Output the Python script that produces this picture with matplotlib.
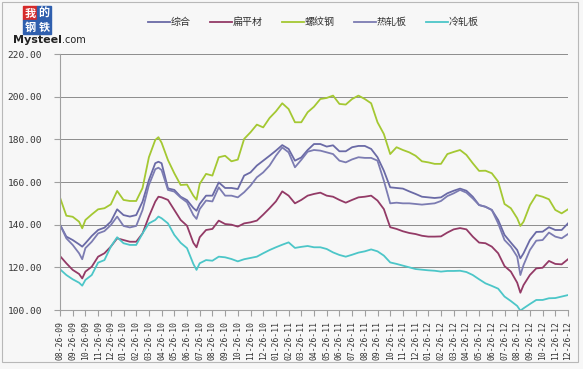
import matplotlib
matplotlib.use("Agg")
import matplotlib.pyplot as plt
from matplotlib.patches import Rectangle
import pandas as pd

# month offsets from 08-26-09
months = [0, 0.5, 1, 1.5, 1.75, 2, 2.5, 3, 3.5, 4, 4.5, 5, 5.5, 6, 6.5, 7, 7.5, 7.75, 8, 8.5,
          9, 9.5, 10, 10.5, 10.75, 11, 11.5, 12, 12.5, 13, 13.5, 14, 14.5, 15, 15.5, 16, 16.5,
          17, 17.5, 18, 18.5, 19, 19.5, 20, 20.5, 21, 21.5, 22, 22.5, 23, 23.5, 24, 24.5, 25,
          25.5, 26, 26.5, 27, 27.5, 28, 28.5, 29, 29.5, 30, 30.5, 31, 31.5, 32, 32.5, 33, 33.5,
          34, 34.5, 35, 35.5, 36, 36.25, 36.5, 37, 37.5, 38, 38.5, 39, 39.5, 40]

rebar = [152.7, 144.2, 143.7, 141.4, 138.3, 142.2, 144.8, 147.2, 147.7, 149.5, 155.8, 151.6, 151.1,
         151.1, 157.2, 171.6, 179.7, 181.0, 178.4, 170.3, 164.1, 158.6, 158.8, 153.6, 151.7, 159.1,
         163.8, 163.0, 171.6, 172.3, 169.7, 170.5, 180.2, 183.3, 186.9, 185.6, 190.0, 193.1, 196.9,
         194.2, 188.0, 188.0, 192.7, 195.3, 198.9, 199.4, 200.5, 196.6, 196.3, 198.9, 200.5, 198.9,
         196.9, 188.0, 182.5, 173.1, 176.3, 175.0, 173.9, 172.3, 169.7, 169.2, 168.5, 168.5, 173.1,
         174.1, 175.0, 172.7, 168.8, 165.2, 165.3, 164.1, 160.2, 149.7, 147.7, 143.0, 139.4, 141.4,
         149.1, 153.9, 153.1, 151.9, 146.9, 145.3, 147.2]

composite = [140.0, 134.4, 132.8, 130.8, 129.7, 131.3, 134.7, 137.5, 138.6, 141.4, 147.2, 144.5, 143.8,
             144.5, 150.8, 160.9, 168.8, 169.5, 168.8, 157.0, 156.3, 153.1, 151.5, 147.8, 146.5, 149.7,
             153.6, 153.6, 159.8, 157.2, 157.2, 156.7, 163.0, 164.5, 167.7, 170.0, 172.3, 174.7, 177.3,
             175.5, 170.0, 171.5, 175.0, 177.8, 177.8, 176.6, 177.2, 174.4, 174.4, 176.3, 176.9, 176.9,
             175.5, 171.6, 165.3, 157.5, 157.2, 156.9, 155.6, 154.4, 153.1, 152.8, 152.5, 152.8, 154.7,
             155.9, 156.9, 155.9, 153.1, 149.2, 148.4, 146.9, 142.2, 135.2, 131.6, 128.1, 124.2, 126.6,
             132.8, 136.6, 136.7, 138.8, 137.5, 137.5, 140.6]

hot_rolled = [140.0, 133.6, 130.5, 126.6, 123.8, 129.0, 132.0, 135.9, 137.0, 139.8, 143.8, 139.4, 138.7,
              139.4, 146.9, 158.6, 166.0, 166.7, 165.6, 156.3, 155.5, 152.7, 150.5, 144.5, 142.7, 147.3,
              151.3, 150.9, 157.5, 153.6, 153.6, 152.8, 155.2, 158.3, 162.2, 164.5, 167.7, 172.3, 176.2,
              173.9, 166.9, 170.4, 174.2, 175.0, 174.7, 173.9, 173.1, 170.0, 169.2, 170.6, 171.6, 171.3,
              171.3, 170.0, 160.6, 150.0, 150.3, 150.0, 150.0, 149.7, 149.4, 149.7, 150.0, 151.1, 153.4,
              154.7, 156.3, 155.0, 152.3, 149.2, 148.4, 146.9, 140.6, 132.8, 129.7, 125.0, 116.4, 121.1,
              128.1, 132.5, 132.8, 136.3, 134.4, 133.6, 135.6]

flat = [125.3, 121.9, 118.8, 116.9, 114.8, 118.0, 120.3, 125.0, 126.6, 129.7, 133.6, 132.8, 132.0,
        132.0, 135.9, 143.8, 150.8, 153.1, 152.8, 151.6, 146.9, 142.2, 139.5, 131.5, 129.4, 134.1,
        137.5, 138.0, 141.9, 140.3, 140.0, 139.1, 140.6, 141.1, 141.9, 144.7, 147.7, 150.9, 155.6,
        153.6, 150.0, 151.6, 153.6, 154.4, 155.0, 153.6, 153.1, 151.6, 150.3, 151.6, 152.8, 153.1,
        153.6, 151.3, 147.3, 138.8, 138.0, 136.9, 136.1, 135.6, 134.8, 134.4, 134.4, 134.5, 136.3,
        137.8, 138.4, 137.8, 134.4, 131.6, 131.3, 129.7, 126.6, 120.6, 118.0, 112.8, 108.1, 111.7,
        116.4, 119.5, 119.8, 123.0, 121.6, 121.4, 123.8]

cold_rolled = [119.1, 116.4, 114.4, 112.8, 111.4, 114.1, 116.4, 122.2, 123.4, 129.7, 134.1, 131.3, 130.5,
               130.5, 135.9, 140.6, 142.2, 143.8, 143.0, 140.6, 135.2, 131.5, 129.0, 121.6, 118.8, 121.9,
               123.4, 123.1, 125.0, 124.7, 123.9, 122.8, 123.8, 124.4, 125.0, 126.6, 128.1, 129.4, 130.6,
               131.7, 129.1, 129.6, 130.0, 129.4, 129.4, 128.6, 127.0, 125.8, 125.0, 125.9, 126.9, 127.5,
               128.4, 127.5, 125.5, 122.3, 121.6, 120.8, 120.0, 119.2, 118.9, 118.6, 118.4, 118.0, 118.3,
               118.3, 118.4, 117.8, 116.4, 114.4, 112.5, 111.3, 110.0, 106.3, 104.2, 101.9, 99.7, 100.8,
               102.8, 104.7, 104.7, 105.5, 105.6, 106.3, 107.0]

tick_labels = list(pd.date_range("2009-08-26", periods=41,
                                 freq=pd.DateOffset(months=1)).strftime("%m-%d-%y"))
y_ticks = [100, 120, 140, 160, 180, 200, 220]

series = [
    ("综合", composite, "#6A6AA6"),
    ("扁平材", flat, "#933A66"),
    ("螺纹钢", rebar, "#A4C832"),
    ("热轧板", hot_rolled, "#7C7CB2"),
    ("冷轧板", cold_rolled, "#4CC6C8"),
]

W, H = 583, 369
fig = plt.figure(figsize=(W / 100, H / 100), dpi=100, facecolor="#F7F7F7")

# outer frame
fig.patches.append(Rectangle((2 / W, (H - 362) / H), (578 - 2) / W, (362 - 2) / H,
                             transform=fig.transFigure, fill=False, edgecolor="#B8B8B8", lw=0.8))

ax = fig.add_axes([60 / W, (H - 310) / H, (568 - 60) / W, (310 - 54) / H])
ax.set_facecolor("#F7F7F7")

for name, vals, col in series:
    ax.plot(months, vals, color=col, lw=1.3, label=name, clip_on=True)

ax.set_xlim(0, 40)
ax.set_ylim(100, 220)
ax.set_yticks(y_ticks)
ax.set_yticklabels([f"{v:.2f}" for v in y_ticks], family="DejaVu Sans Mono", fontsize=6.8,
                   color="#333333")
ax.set_xticks(range(41))
ax.set_xticklabels(tick_labels, rotation=90, family="DejaVu Sans Mono", fontsize=5.8,
                   color="#333333")
ax.yaxis.grid(True, color="#8C8C8C", lw=0.7)
ax.set_axisbelow(True)
for s in ["top", "right"]:
    ax.spines[s].set_visible(False)
for s in ["left", "bottom"]:
    ax.spines[s].set_color("#A0A0A0")
    ax.spines[s].set_linewidth(0.8)
ax.tick_params(axis="both", colors="#A0A0A0", length=4, width=0.8, labelcolor="#333333")
ax.tick_params(axis="y", pad=9)
ax.tick_params(axis="x", pad=4)

leg = fig.legend(loc="center", bbox_to_anchor=(313 / W, 1 - 22 / H), ncol=5, frameon=False,
                 prop={"family": ["Noto Sans CJK SC", "DejaVu Sans"], "size": 7.2},
                 handlelength=2.2, handletextpad=0.1, columnspacing=1.9)
for t in leg.get_texts():
    t.set_color("#333333")

# logo
cells = [((23, 6), "#D62A2A", "我"), ((37, 6), "#2F5FAE", "的"),
         ((23, 20), "#2F5FAE", "钢"), ((37, 20), "#2F5FAE", "铁")]
for (lx, ly), c, ch in cells:
    fig.patches.append(Rectangle((lx / W, 1 - (ly + 14) / H), 14 / W, 14 / H,
                                 transform=fig.transFigure, color=c))
    fig.text((lx + 7) / W, 1 - (ly + 7) / H, ch, color="white", fontsize=8, ha="center",
             va="center", family=["Noto Sans CJK SC", "DejaVu Sans"], fontweight="bold")
t1 = fig.text(13 / W, 1 - 40 / H, "Mysteel", fontsize=8, fontweight="bold", color="#222222",
              va="center", ha="left")
fig.canvas.draw()
bb = t1.get_window_extent()
fig.text(bb.x1 / W + 0.5 / W, 1 - 40 / H, ".com", fontsize=7, color="#222222",
         va="center", ha="left")

fig.savefig("out.png", dpi=100, facecolor=fig.get_facecolor())
